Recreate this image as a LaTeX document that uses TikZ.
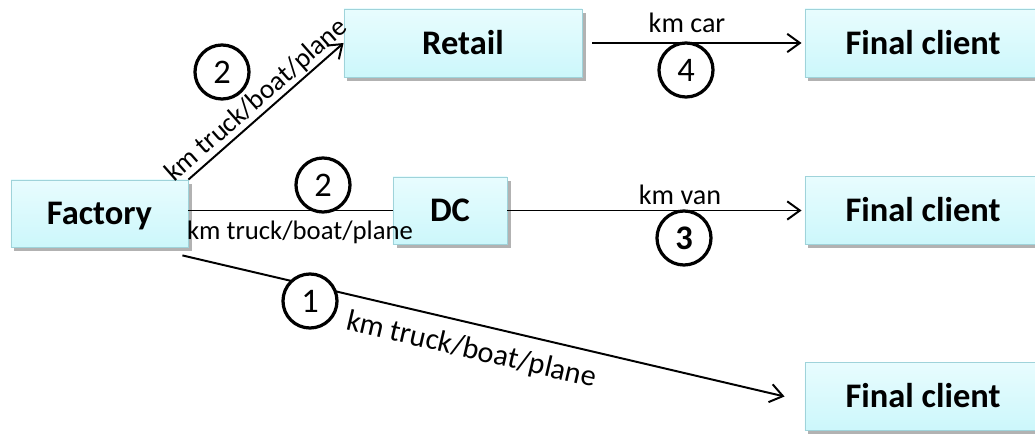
\documentclass[tikz,border=0pt]{standalone}
\usepackage{fontspec}
\setmainfont{Carlito}
\usetikzlibrary{arrows.meta,shadows}
\definecolor{boxtop}{HTML}{E8FCFE}
\definecolor{boxbot}{HTML}{CCF7FB}
\definecolor{boxline}{HTML}{9FD3DA}
\begin{document}
\begin{tikzpicture}[x=0.025cm,y=-0.025cm,
  box/.style={draw=boxline, line width=0.6pt, top color=boxtop, bottom color=boxbot,
    font=\fontsize{24.5}{29}\selectfont\bfseries, text=black, inner sep=0pt,
    text height=15.7pt, text depth=0pt,
    drop shadow={shadow xshift=2.5pt, shadow yshift=-2.5pt, fill=black, opacity=0.3}},
  num/.style={circle, draw, line width=2.3pt, minimum size=1.35cm, inner sep=0pt,
    fill=white, font=\fontsize{24.5}{28}\selectfont},
  lab/.style={font=\fontsize{20}{24}\selectfont, inner sep=1pt},
  ln/.style={line width=1.4pt},
  arr/.style={line width=1.4pt, -{Straight Barb[length=9pt,width=13pt]}}]
\useasboundingbox (0,0) rectangle (1035,438);
% boxes
\node[box, minimum width=4.425cm, minimum height=1.675cm] (factory) at (99.5,213.5) {Factory};
\node[box, minimum width=5.95cm, minimum height=1.7cm] (retail) at (463,43) {Retail};
\node[box, minimum width=2.85cm, minimum height=1.675cm] (dc) at (450,210.5) {DC};
\node[box, minimum width=5.9cm, minimum height=1.7cm] (fc1) at (923,43) {Final client};
\node[box, minimum width=5.9cm, minimum height=1.7cm] (fc2) at (923,210.5) {Final client};
\node[box, minimum width=5.9cm, minimum height=1.7cm] (fc3) at (923,396.5) {Final client};
% connectors
\draw[arr] (factory.north east) -- node[lab, sloped, above, font=\fontsize{19.5}{23}\selectfont] {km truck/boat/plane} (retail.west);
\draw[ln] (dc.west -| factory.east) -- (dc.west);
\draw[arr] ([shift={(10,0)}]retail.east) -- ([shift={(-3,0)}]fc1.west);
\draw[arr] (dc.east) -- ([shift={(-3,0)}]fc2.west);
\draw[arr] ([shift={(-6,8)}]factory.south east) -- node[lab, sloped, below=8pt, pos=0.49, font=\fontsize{21.5}{25}\selectfont] {km truck/boat/plane} ([shift={(-20,0)}]fc3.west);
% labels
\node[lab, anchor=base] (lcar) at (687,33) {km car};
\node[lab, anchor=base] (lvan) at (680,205) {km van};
\node[lab, anchor=base, font=\fontsize{19}{23}\selectfont] (ldc) at (300,240) {km truck/boat/plane};
% circled numbers
\node[num] (c2a) at (222,72) {2};
\node[num] (c2b) at (323,185) {2};
\node[num] (c1) at (310,301) {1};
\node[num] (c4) at (686,70) {4};
\node[num, font=\fontsize{24.5}{28}\selectfont\bfseries] (c3) at (684,238) {3};
\end{tikzpicture}
\end{document}
